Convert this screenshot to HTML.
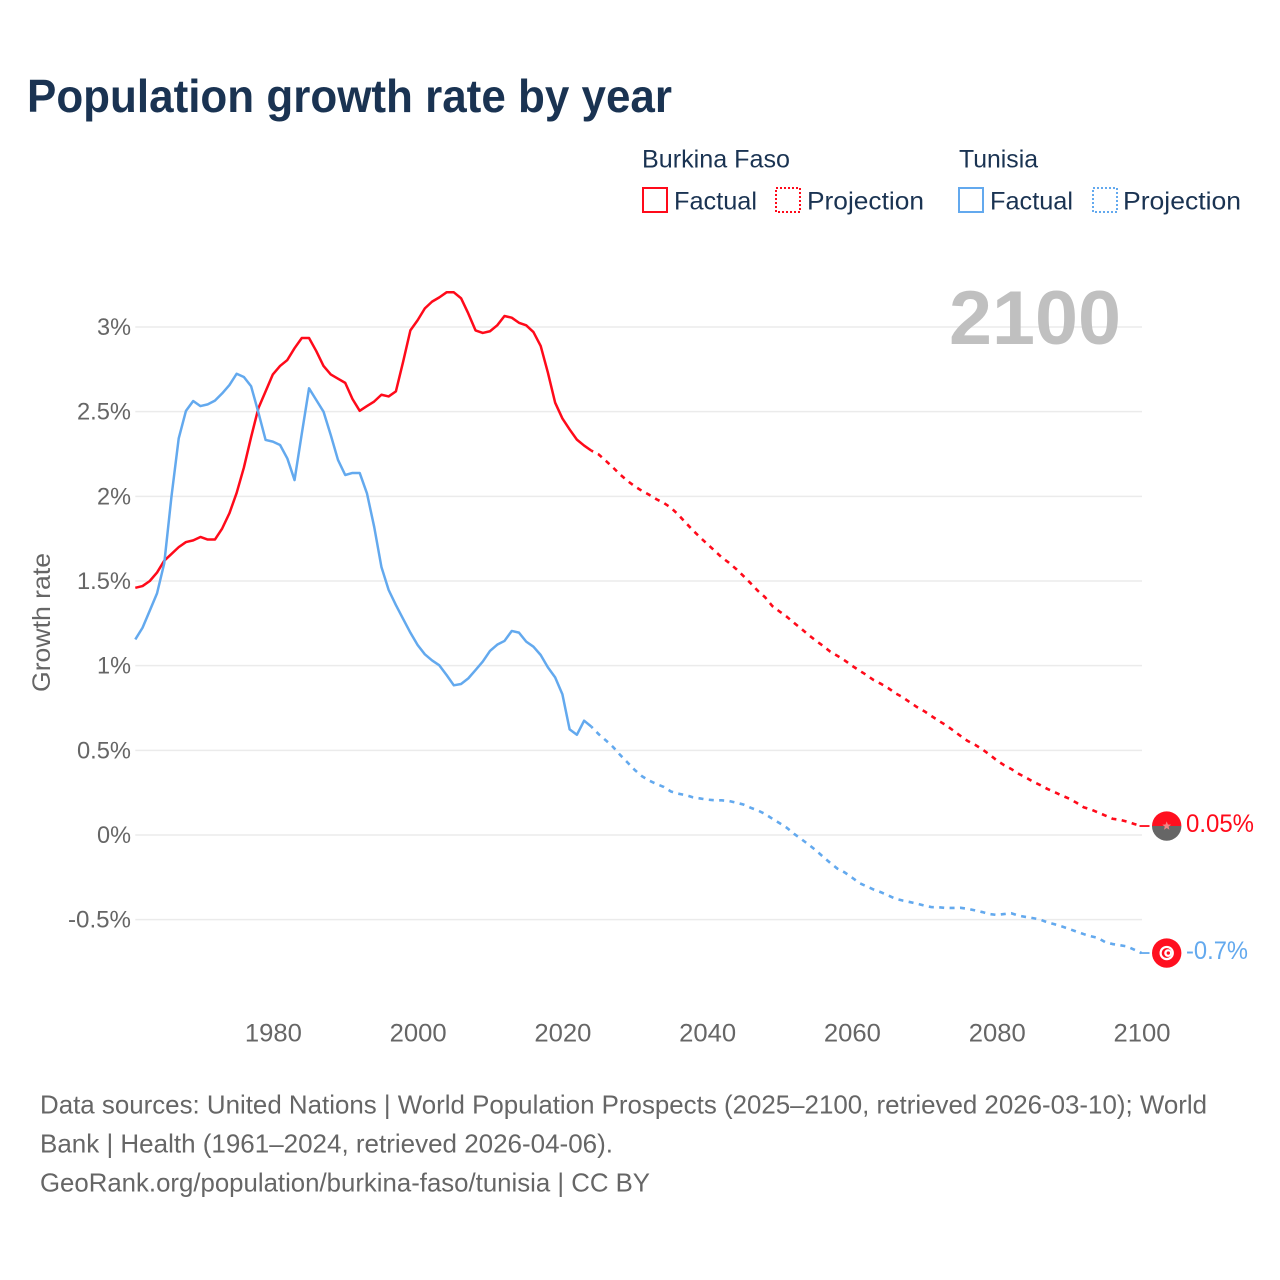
<!DOCTYPE html>
<html lang="en">
<head>
<meta charset="utf-8">
<title>Population growth rate by year</title>
<style>
html,body{margin:0;padding:0;background:#fff;width:1280px;height:1280px;overflow:hidden}
svg{display:block;font-family:"Liberation Sans",sans-serif}
</style>
</head>
<body>
<svg id="chart" xmlns="http://www.w3.org/2000/svg" width="1280" height="1280" viewBox="0 0 1280 1280">
  <text x="27" y="112" font-size="46" font-weight="700" fill="#1a3352" textLength="645" lengthAdjust="spacingAndGlyphs">Population growth rate by year</text>

  <g font-size="25" fill="#1a3352">
    <text x="642" y="167.5" textLength="148" lengthAdjust="spacingAndGlyphs">Burkina Faso</text>
    <text x="959" y="167.5" textLength="79" lengthAdjust="spacingAndGlyphs">Tunisia</text>
    <rect x="643" y="188" width="24" height="24" fill="none" stroke="#ff0a1a" stroke-width="2"/>
    <text x="674" y="209.5" textLength="83" lengthAdjust="spacingAndGlyphs">Factual</text>
    <rect x="776" y="188" width="24" height="24" fill="none" stroke="#ff0a1a" stroke-width="2" stroke-dasharray="2 2"/>
    <text x="807" y="209.5" textLength="117" lengthAdjust="spacingAndGlyphs">Projection</text>
    <rect x="959" y="188" width="24" height="24" fill="none" stroke="#63a9ee" stroke-width="2"/>
    <text x="990" y="209.5" textLength="83" lengthAdjust="spacingAndGlyphs">Factual</text>
    <rect x="1093" y="188" width="24" height="24" fill="none" stroke="#63a9ee" stroke-width="2" stroke-dasharray="2 2"/>
    <text x="1123" y="209.5" textLength="118" lengthAdjust="spacingAndGlyphs">Projection</text>
  </g>

  <g id="grid"></g>
  <text x="949" y="344" font-size="76" font-weight="700" fill="#c0c0c0" textLength="172" lengthAdjust="spacingAndGlyphs">2100</text>
  <g id="y-ticks" font-size="24" fill="#666"></g>
  <g id="x-ticks" font-size="25" fill="#666"></g>
  <text transform="translate(50,692) rotate(-90)" font-size="25" fill="#666" textLength="139" lengthAdjust="spacingAndGlyphs">Growth rate</text>
  <g id="series"></g>
  <g id="markers"></g>

  <g font-size="26" fill="#666">
    <text x="40" y="1113.5" textLength="1167" lengthAdjust="spacingAndGlyphs">Data sources: United Nations | World Population Prospects (2025–2100, retrieved 2026-03-10); World</text>
    <text x="40" y="1152.5" textLength="573" lengthAdjust="spacingAndGlyphs">Bank | Health (1961–2024, retrieved 2026-04-06).</text>
    <text x="40" y="1191.5" textLength="610" lengthAdjust="spacingAndGlyphs">GeoRank.org/population/burkina-faso/tunisia | CC BY</text>
  </g>
</svg>

<script>
const firstYear = 1961;
const lastFactualYear = 2024;
const lastYear = 2100;
const xTickYears = [1980, 2000, 2020, 2040, 2060, 2080, 2100];
const yTickValues = [3, 2.5, 2, 1.5, 1, 0.5, 0, -0.5];
const yTickLabels = ["3%", "2.5%", "2%", "1.5%", "1%", "0.5%", "0%", "-0.5%"];

// Growth rate (%), one value per year, 1961–2024
const burkinaFactual = [
  1.46,1.47,1.50,1.55,1.62,1.66,1.70,1.73,1.74,1.76,
  1.745,1.745,1.81,1.90,2.02,2.17,2.35,2.52,2.62,2.72,
  2.77,2.805,2.875,2.935,2.935,2.858,2.77,2.72,2.695,2.67,
  2.575,2.505,2.533,2.56,2.60,2.59,2.62,2.795,2.98,3.04,
  3.11,3.15,3.175,3.205,3.205,3.17,3.08,2.98,2.965,2.975,
  3.01,3.065,3.055,3.025,3.01,2.97,2.888,2.73,2.553,2.46,
  2.395,2.335,2.30,2.27
];
const tunisiaFactual = [
  1.155,1.224,1.325,1.427,1.605,2.0,2.343,2.505,2.563,2.533,
  2.543,2.565,2.608,2.657,2.724,2.705,2.65,2.496,2.333,2.323,
  2.303,2.224,2.096,2.37,2.638,2.569,2.50,2.362,2.215,2.126,
  2.138,2.138,2.018,1.82,1.583,1.447,1.358,1.276,1.195,1.122,
  1.067,1.031,1.002,0.945,0.884,0.892,0.925,0.974,1.024,1.087,
  1.124,1.146,1.205,1.195,1.142,1.112,1.063,0.99,0.931,0.831,
  0.624,0.592,0.675,0.64
];
// Growth rate (%), one value per year, 2025–2100
const burkinaProjection = [
  2.248,2.210,2.170,2.128,2.091,2.059,2.032,2.009,1.983,1.961,
  1.933,1.892,1.846,1.801,1.759,1.719,1.680,1.640,1.608,1.571,
  1.530,1.487,1.442,1.404,1.352,1.320,1.289,1.253,1.218,1.182,
  1.148,1.117,1.083,1.058,1.031,1.000,0.972,0.945,0.915,0.893,
  0.868,0.837,0.814,0.784,0.755,0.731,0.702,0.674,0.648,0.617,
  0.585,0.555,0.533,0.506,0.475,0.441,0.413,0.390,0.362,0.340,
  0.315,0.295,0.272,0.253,0.233,0.215,0.191,0.164,0.151,0.133,
  0.115,0.096,0.090,0.079,0.065,0.053
];
const tunisiaProjection = [
  0.596,0.559,0.520,0.472,0.428,0.384,0.347,0.321,0.301,0.284,
  0.257,0.244,0.236,0.223,0.216,0.209,0.205,0.205,0.201,0.191,
  0.180,0.161,0.145,0.124,0.096,0.070,0.043,0.007,-0.024,-0.056,
  -0.090,-0.128,-0.165,-0.199,-0.221,-0.251,-0.283,-0.303,-0.322,-0.338,
  -0.357,-0.376,-0.387,-0.396,-0.406,-0.417,-0.426,-0.427,-0.431,-0.431,
  -0.430,-0.436,-0.445,-0.455,-0.467,-0.472,-0.467,-0.462,-0.476,-0.484,
  -0.491,-0.499,-0.516,-0.527,-0.540,-0.555,-0.570,-0.585,-0.598,-0.608,
  -0.633,-0.644,-0.651,-0.658,-0.677,-0.697
];
const endLabels = ["0.05%", "-0.7%"];

const NS = "http://www.w3.org/2000/svg";
const RED = "#ff0a1a";
const BLUE = "#63a9ee";
const plotLeft = 135.3, plotRight = 1141.5;
const y0Pixel = 835, pixelsPerPercent = 169.33;

function xScale(year) {
  return plotLeft + (year - firstYear) * (plotRight - plotLeft) / (lastYear - firstYear);
}
function yScale(value) {
  return y0Pixel - value * pixelsPerPercent;
}
function make(tag, parent, attrs) {
  const el = document.createElementNS(NS, tag);
  for (const k in attrs) el.setAttribute(k, attrs[k]);
  parent.appendChild(el);
  return el;
}
function linePath(startYear, values) {
  let d = "";
  values.forEach(function (v, i) {
    const cmd = (d === "") ? "M" : "L";
    d += cmd + xScale(startYear + i).toFixed(2) + " " + yScale(v).toFixed(2);
  });
  return d;
}

const gridLayer = document.getElementById("grid");
const yTickLayer = document.getElementById("y-ticks");
yTickValues.forEach(function (v, i) {
  const line = make("line", gridLayer, {
    x1: plotLeft, x2: plotRight + 0.5, y1: yScale(v), y2: yScale(v),
    stroke: "#ebebeb", "stroke-width": 1.5
  });
  
  
  const label = yTickLabels[i];
  const t = make("text", yTickLayer, {
    x: 131, y: yScale(v) + 8, "text-anchor": "end",
    textLength: 34 + (label.indexOf(".") >= 0 ? 20 : 0) + (label.indexOf("-") >= 0 ? 9 : 0),
    lengthAdjust: "spacingAndGlyphs"
  });
  
  
  t.textContent = label;
});

const xTickLayer = document.getElementById("x-ticks");
xTickYears.forEach(function (year) {
  const t = make("text", xTickLayer, {
    x: xScale(year) + 0.5, y: 1041.5, "text-anchor": "middle",
    textLength: 57, lengthAdjust: "spacingAndGlyphs"
  });
  
  
  t.textContent = String(year);
});

const seriesLayer = document.getElementById("series");
function drawSeries(factual, projection, color, name) {
  const last = factual[factual.length - 1];
  const proj = make("path", seriesLayer, {
    d: linePath(lastFactualYear, [last].concat(projection)),
    fill: "none", stroke: color, "stroke-width": 2.6,
    "stroke-dasharray": "5 5.4", "stroke-dashoffset": 3, "stroke-linejoin": "round"
  });
  
  
  const fact = make("path", seriesLayer, {
    d: linePath(firstYear, factual),
    fill: "none", stroke: color, "stroke-width": 2.5, "stroke-linejoin": "round"
  });
  
  
  const endY = yScale(projection[projection.length - 1]);
  const conn = make("line", seriesLayer, {
    x1: plotRight - 2, x2: plotRight + 8, y1: endY, y2: endY,
    stroke: color, "stroke-width": 1.8
  });
  
  
}
drawSeries(burkinaFactual, burkinaProjection, RED, "burkina-faso");
drawSeries(tunisiaFactual, tunisiaProjection, BLUE, "tunisia");

const markerLayer = document.getElementById("markers");
const markerX = plotRight + 25.2;

// Burkina Faso flag marker
const bfY = yScale(burkinaProjection[burkinaProjection.length - 1]);
const bf = make("g", markerLayer, { transform: "translate(" + markerX + "," + bfY + ")" });


make("path", bf, { d: "M-14.7 0A14.7 14.7 0 0 1 14.7 0Z", fill: "#ff0f1f" });
make("path", bf, { d: "M-14.7 0A14.7 14.7 0 0 0 14.7 0Z", fill: "#666" });
make("polygon", bf, {
  points: "0,-4.6 1.2,-1.5 4.4,-1.4 1.9,0.6 2.7,3.7 0,2 -2.7,3.7 -1.9,0.6 -4.4,-1.4 -1.2,-1.5",
  fill: "#f08585"
});

// Tunisia flag marker
const tnY = yScale(tunisiaProjection[tunisiaProjection.length - 1]);
const tn = make("g", markerLayer, { transform: "translate(" + markerX + "," + tnY + ")" });


make("circle", tn, { r: 14.7, fill: "#ff0f1f" });
make("circle", tn, { r: 7.2, fill: "#fff" });
make("circle", tn, { r: 5, fill: "#ff0f1f" });
make("circle", tn, { cx: 1.3, r: 3.8, fill: "#fff" });
make("circle", tn, { cx: 1.6, r: 1.7, fill: "#ff0f1f" });

const bfLabel = make("text", markerLayer, {
  x: 1186, y: bfY + 6, "font-size": 25, fill: RED,
  textLength: 68, lengthAdjust: "spacingAndGlyphs"
});


bfLabel.textContent = endLabels[0];

const tnLabel = make("text", markerLayer, {
  x: 1186, y: tnY + 6, "font-size": 25, fill: BLUE,
  textLength: 62, lengthAdjust: "spacingAndGlyphs"
});


tnLabel.textContent = endLabels[1];
</script>
</body>
</html>
